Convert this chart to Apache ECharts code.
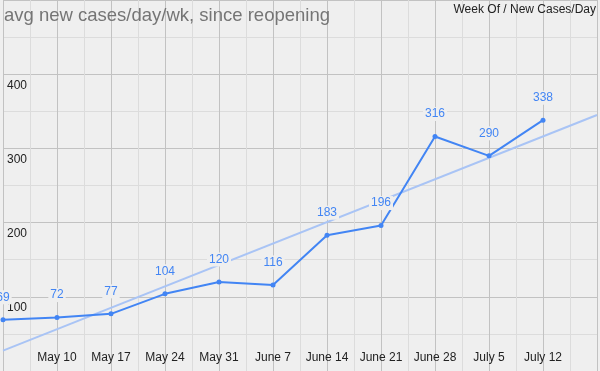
<!DOCTYPE html>
<html>
<head>
<meta charset="utf-8">
<script src="https://cdn.jsdelivr.net/npm/echarts@6/dist/echarts.min.js"></script>
<style>
html,body{margin:0;padding:0;background:#efefef;}
#c{width:600px;height:371px;}
</style>
</head>
<body>
<div id="c"></div>
<script>
// Week index 0 = May 3
var xLabels = ['', 'May 10', 'May 17', 'May 24', 'May 31', 'June 7', 'June 14', 'June 21', 'June 28', 'July 5', 'July 12', ''];
var weekIndex = [0, 1, 2, 3, 4, 5, 6, 7, 8, 9, 10];
var newCases = [69, 72, 77, 104, 120, 116, 183, 196, 316, 290, 338];
// trendline endpoints
var trendX = [0, 11];
var trendY = [27.5, 345];
var yTicks = [100, 200, 300, 400];

var chart = echarts.init(document.getElementById('c'), null, {renderer: 'canvas'});
var FONT = 'Arial, "Liberation Sans", sans-serif';
var option = {
  backgroundColor: '#efefef',
  animation: false,
  title: [
    {text: 'avg new cases/day/wk, since reopening', left: 4, top: 6, padding: 0,
     textStyle: {fontFamily: FONT, fontSize: 18.5, fontWeight: 'normal', color: '#757575'}},
    {text: 'Week Of / New Cases/Day', right: 4, top: 4, padding: 0,
     textStyle: {fontFamily: FONT, fontSize: 12, fontWeight: 'normal', color: '#222222'}}
  ],
  grid: {left: 2, right: 2, top: 0, bottom: 0, containLabel: false},
  xAxis: {
    type: 'value', min: 0, max: 11, interval: 1,
    axisLine: {show: false}, axisTick: {show: false},
    splitLine: {show: true, lineStyle: {color: '#c2c2c2', width: 1}},
    minorTick: {show: false, splitNumber: 2},
    minorSplitLine: {show: true, lineStyle: {color: '#dcdcdc', width: 1}},
    axisLabel: {
      inside: true, margin: 7, verticalAlign: 'bottom',
      fontFamily: FONT, fontSize: 12, color: '#222222',
      formatter: function (v) { return xLabels[Math.round(v)] || ''; }
    }
  },
  yAxis: {
    type: 'value', min: 0, max: 500, interval: 100,
    axisLine: {show: false}, axisTick: {show: false},
    splitLine: {show: true, lineStyle: {color: '#c2c2c2', width: 1}},
    minorTick: {show: false, splitNumber: 2},
    minorSplitLine: {show: true, lineStyle: {color: '#dcdcdc', width: 1}},
    axisLabel: {
      inside: true, margin: 4, align: 'left', verticalAlign: 'top', padding: [5, 0, 0, 0],
      fontFamily: FONT, fontSize: 12, color: '#222222',
      formatter: function (v) { return yTicks.indexOf(v) >= 0 ? String(v) : ''; }
    }
  },
  series: [
    {
      type: 'line', name: 'trend',
      data: trendX.map(function (x, i) { return [x, trendY[i]]; }),
      showSymbol: false, symbol: 'none', z: 2,
      lineStyle: {color: '#a9c4f5', width: 2}
    },
    {
      type: 'line', name: 'New Cases/Day',
      data: weekIndex.map(function (x, i) { return [x, newCases[i]]; }),
      symbol: 'circle', symbolSize: 5, z: 3,
      itemStyle: {color: '#4285f4'},
      lineStyle: {color: '#4285f4', width: 2},
      label: {
        show: true, position: 'top', distance: 13,
        fontFamily: FONT, fontSize: 12, color: '#4285f4',
        backgroundColor: '#efefef', padding: [1, 2, 1, 2]
      }
    }
  ]
};
chart.setOption(option);
</script>
</body>
</html>
